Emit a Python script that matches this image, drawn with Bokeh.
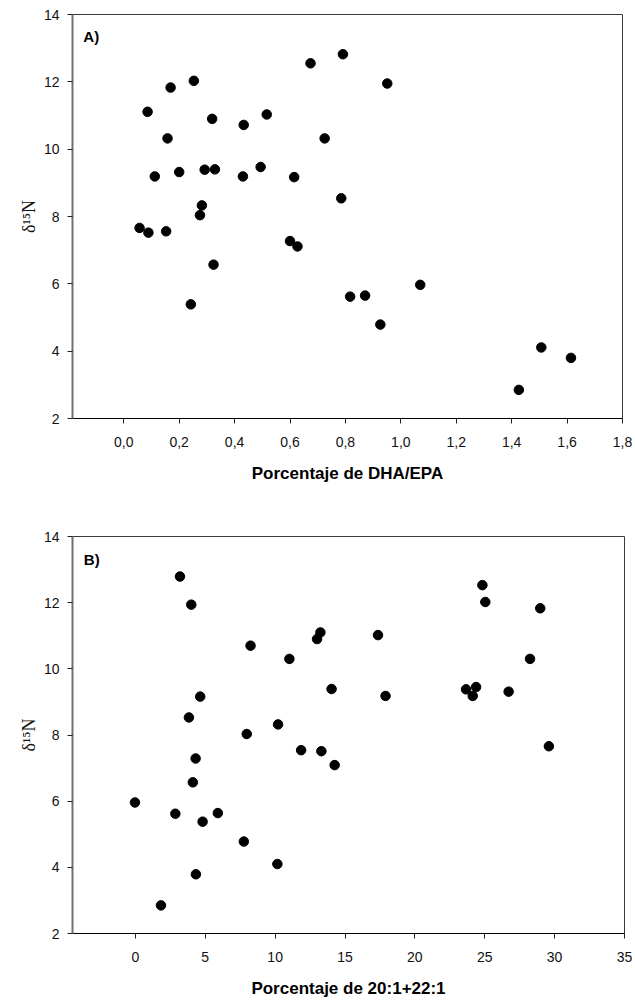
from bokeh.plotting import figure
from bokeh.layouts import column
from bokeh.models import Range1d, FixedTicker, CustomJSTickFormatter, Label
from bokeh.embed import file_html
from bokeh.resources import INLINE

# ---- data ----
dha_epa = [0.057, 0.089, 0.153, 0.086, 0.169, 0.158, 0.112, 0.200, 0.253, 0.319,
           0.292, 0.329, 0.282, 0.275, 0.433, 0.430, 0.494, 0.516, 0.615, 0.600,
           0.627, 0.674, 0.791, 0.951, 0.725, 0.785, 0.324, 0.242, 0.817, 0.871,
           1.070, 0.926, 1.507, 1.614, 1.426]
d15n_a = [7.66, 7.52, 7.56, 11.11, 11.83, 10.32, 9.19, 9.32, 12.03, 10.90,
          9.39, 9.40, 8.33, 8.04, 10.72, 9.19, 9.47, 11.03, 9.17, 7.27,
          7.11, 12.55, 12.82, 11.95, 10.32, 8.54, 6.57, 5.39, 5.62, 5.65,
          5.97, 4.79, 4.11, 3.80, 2.85]

mufa = [3.19, 4.00, 8.24, 11.02, 13.24, 13.00, 4.64, 3.83, 7.97, 10.21,
        11.86, 4.31, 17.36, 14.04, 17.90, 24.83, 25.04, 28.97, 28.24, 23.66,
        24.38, 24.14, 26.71, 29.59, 13.31, 4.11, -0.03, 2.86, 5.90, 4.81,
        7.76, 10.16, 4.33, 1.83, 14.26]
d15n_b = [12.79, 11.94, 10.70, 10.30, 11.10, 10.90, 9.16, 8.53, 8.03, 8.32,
          7.54, 7.29, 11.02, 9.39, 9.18, 12.53, 12.02, 11.83, 10.30, 9.38,
          9.45, 9.18, 9.31, 7.66, 7.51, 6.57, 5.96, 5.62, 5.64, 5.38,
          4.78, 4.10, 3.79, 2.85, 7.09]

x_ticks_a = [0.0, 0.2, 0.4, 0.6, 0.8, 1.0, 1.2, 1.4, 1.6, 1.8]
x_ticks_b = [0, 5, 10, 15, 20, 25, 30, 35]
y_ticks = [2, 4, 6, 8, 10, 12, 14]

x_range_a = (-0.185, 1.8)
x_range_b = (-4.5, 35)
y_range = (2, 14)

x_label_a = "Porcentaje de DHA/EPA"
x_label_b = "Porcentaje de 20:1+22:1"
y_label = "δ¹⁵N"
panel_a = "A)"
panel_b = "B)"

SANS = "Liberation Sans"
SERIF = "Liberation Serif"


def make_panel(xs, ys, xr, xticks, xlabel, tag, tag_x, tag_y, fw, fh,
               top, bottom, right, comma):
    p = figure(output_backend="svg", toolbar_location=None,
               frame_width=fw, frame_height=fh,
               min_border_left=72, min_border_right=right,
               min_border_top=top, min_border_bottom=bottom,
               x_range=Range1d(*xr), y_range=Range1d(*y_range))
    p.background_fill_color = "white"
    p.border_fill_color = "white"
    p.outline_line_color = "#3a3a3a"
    p.outline_line_width = 1
    p.xgrid.grid_line_color = None
    p.ygrid.grid_line_color = None

    p.xaxis.ticker = FixedTicker(ticks=xticks)
    if comma:
        p.xaxis.formatter = CustomJSTickFormatter(
            code="return tick.toFixed(1).replace('.', ',');")
    else:
        p.xaxis.formatter = CustomJSTickFormatter(code="return tick.toFixed(0);")
    p.yaxis.ticker = FixedTicker(ticks=y_ticks)
    p.yaxis.formatter = CustomJSTickFormatter(code="return tick.toFixed(0);")

    for ax in (p.xaxis, p.yaxis):
        ax.major_tick_in = 0
        ax.major_tick_out = 5
        ax.minor_tick_line_color = None
        ax.major_label_text_font = SANS
        ax.major_label_text_font_size = "14px"
        ax.major_label_text_color = "#111111"
        ax.major_tick_line_color = "#222222"

    p.xaxis.axis_line_color = "black"
    p.xaxis.axis_line_width = 1
    p.xaxis.major_label_standoff = 13
    p.xaxis.axis_label = xlabel
    p.xaxis.axis_label_text_font = SANS
    p.xaxis.axis_label_text_font_style = "bold"
    p.xaxis.axis_label_text_font_size = "17px"
    p.xaxis.axis_label_text_color = "black"
    p.xaxis.axis_label_standoff = 14

    p.yaxis.axis_line_color = "#707070"
    p.yaxis.axis_line_width = 2
    p.yaxis.major_label_standoff = 8
    p.yaxis.axis_label = y_label
    p.yaxis.axis_label_text_font = SERIF
    p.yaxis.axis_label_text_font_style = "normal"
    p.yaxis.axis_label_text_font_size = "18px"
    p.yaxis.axis_label_text_color = "#111111"
    p.yaxis.axis_label_standoff = 2

    p.scatter(xs, ys, size=9.5, marker="circle",
              fill_color="black", line_color="black")

    p.add_layout(Label(x=tag_x, y=tag_y, text=tag, text_font=SANS,
                       text_font_style="bold", text_font_size="15px",
                       text_baseline="middle", text_align="left",
                       text_color="black"))
    return p


p1 = make_panel(dha_epa, d15n_a, x_range_a, x_ticks_a, x_label_a, panel_a,
                -0.146, 13.34, 550, 404, 14, 82, 13, True)
p2 = make_panel(mufa, d15n_b, x_range_b, x_ticks_b, x_label_b, panel_b,
                -3.69, 13.3, 552, 397, 36, 67, 11, False)

layout = column(p1, p2, spacing=0)
open("out.html", "w").write(file_html(layout, INLINE))
